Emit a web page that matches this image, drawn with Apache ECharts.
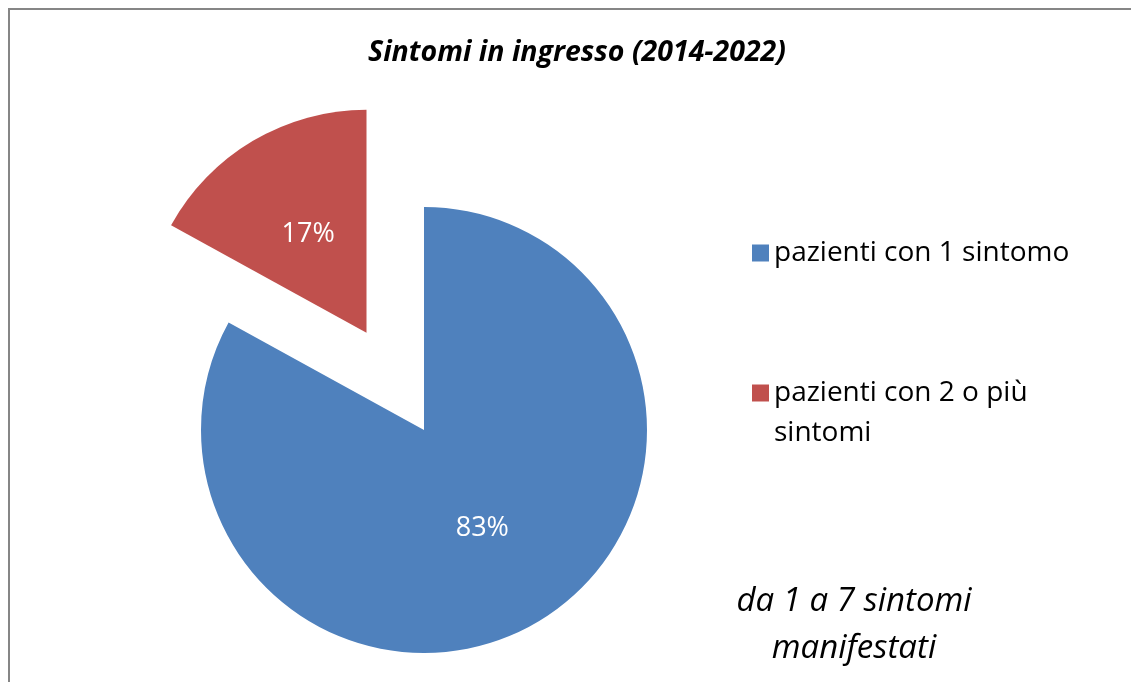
<!DOCTYPE html>
<html>
<head>
<meta charset="utf-8">
<title>Sintomi in ingresso (2014-2022)</title>
<script src="https://cdn.jsdelivr.net/npm/echarts@6/dist/echarts.min.js"></script>
<style>
  html, body { margin: 0; padding: 0; background: #fff; }
  #main { width: 1131px; height: 682px; }
</style>
</head>
<body>
<div id="main"></div>
<script>
// dati
const categories = ['pazienti con 1 sintomo', 'pazienti con 2 o più sintomi']
const values = [83, 17]
const colors = ['#4F81BD', '#C0504D']
const titleText = 'Sintomi in ingresso (2014-2022)'
const noteLines = ['da 1 a 7 sintomi', 'manifestati']

const font = '"Open Sans", "Noto Sans", sans-serif'

const chart = echarts.init(document.getElementById('main'), null, { renderer: 'canvas' })

const legendText = {
  fontFamily: font,
  fontSize: 28,
  color: '#000',
  lineHeight: 40
}

chart.setOption({
  animation: false,
  // titolo
  title: {
    text: titleText,
    left: 572,
    textAlign: 'center',
    top: 32,
    textStyle: {
      fontFamily: font,
      fontSize: 28.5,
      lineHeight: 32,
      fontWeight: 'bold',
      fontStyle: 'italic',
      color: '#000'
    }
  },
  // legenda: due componenti per controllare la posizione
  legend: [{
    data: [categories[0]],
    left: 752,
    top: 233,
    padding: 0,
    orient: 'vertical',
    icon: 'rect',
    itemWidth: 17,
    itemHeight: 17,
    itemGap: 0,
    selectedMode: false,
    textStyle: legendText
  }, {
    data: [categories[1]],
    left: 752,
    top: 333,
    padding: 0,
    orient: 'vertical',
    icon: 'rect',
    itemWidth: 17,
    itemHeight: 17,
    itemGap: 0,
    selectedMode: false,
    // riga vuota iniziale: il quadratino resta allineato alla prima riga
    formatter: function () { return ' \npazienti con 2 o più\nsintomi' },
    textStyle: legendText
  }],
  // cornice e nota
  graphic: [{
    type: 'rect',
    silent: true,
    shape: { x: 9, y: 9, width: 1140, height: 700 },
    style: { fill: 'none', stroke: '#868686', lineWidth: 2 }
  }, {
    type: 'text',
    silent: true,
    x: 854,
    y: 578,
    style: {
      text: noteLines.join('\n'),
      align: 'center',
      verticalAlign: 'top',
      fontFamily: font,
      fontSize: 33,
      fontStyle: 'italic',
      lineHeight: 47,
      fill: '#000'
    }
  }],
  series: [{
    type: 'pie',
    center: [424, 430],
    radius: 223,
    startAngle: 90,
    clockwise: true,
    selectedMode: 'single',
    selectedOffset: 113,
    emphasis: { disabled: true },
    label: {
      show: true,
      position: 'inside',
      formatter: '{d}%',
      fontFamily: font,
      fontSize: 27,
      color: '#fff'
    },
    labelLine: { show: false },
    data: categories.map((name, i) => ({
      name: name,
      value: values[i],
      selected: i === 1,
      itemStyle: { color: colors[i] }
    }))
  }]
})
</script>
</body>
</html>
